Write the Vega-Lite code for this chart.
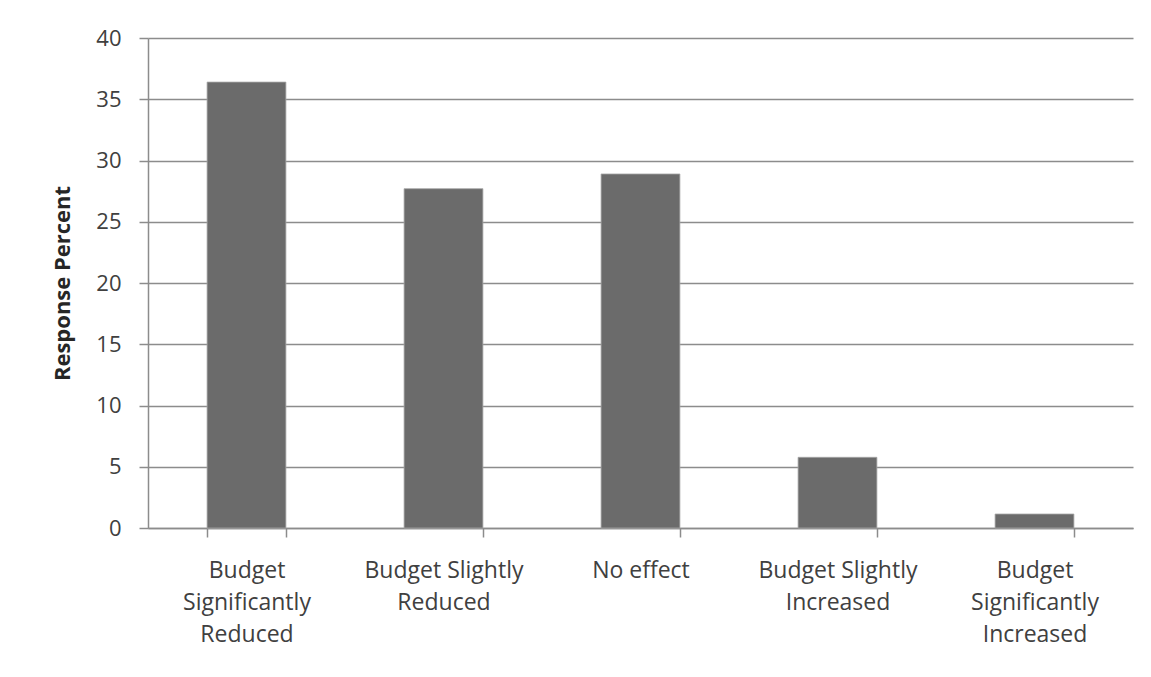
{
  "$schema": "https://vega.github.io/schema/vega-lite/v6.json",
  "autosize": {"type": "none"},
  "width": 985,
  "height": 490,
  "padding": {"left": 148, "top": 38, "right": 18, "bottom": 149},
  "background": "white",
  "config": {
    "view": {"stroke": null},
    "font": "Open Sans"
  },
  "data": {
    "values": [
      {"category": "Budget Significantly Reduced", "percent": 36.4},
      {"category": "Budget Slightly Reduced", "percent": 27.7},
      {"category": "No effect", "percent": 28.9},
      {"category": "Budget Slightly Increased", "percent": 5.77},
      {"category": "Budget Significantly Increased", "percent": 1.14}
    ]
  },
  "mark": {"type": "bar", "color": "#6b6b6b", "stroke": "#a6a6a6", "strokeWidth": 0.8},
  "encoding": {
    "x": {
      "field": "category",
      "type": "nominal",
      "sort": null,
      "scale": {"paddingInner": 0.6, "paddingOuter": 0.3},
      "axis": {
        "title": null,
        "labelAngle": 0,
        "labelFont": "Open Sans",
        "labelFontSize": 23,
        "labelColor": "#404040",
        "labelLineHeight": 32,
        "labelBaseline": "top",
        "labelPadding": 22,
        "labelExpr": "datum.value == 'Budget Significantly Reduced' ? ['Budget','Significantly','Reduced'] : datum.value == 'Budget Slightly Reduced' ? ['Budget Slightly','Reduced'] : datum.value == 'Budget Slightly Increased' ? ['Budget Slightly','Increased'] : datum.value == 'Budget Significantly Increased' ? ['Budget','Significantly','Increased'] : datum.value",
        "tickBand": "extent",
        "tickSize": 9,
        "tickColor": "#8c8c8c",
        "tickWidth": 1.5,
        "domainColor": "#8c8c8c",
        "domainWidth": 1.5,
        "grid": false
      }
    },
    "y": {
      "field": "percent",
      "type": "quantitative",
      "scale": {"domain": [0, 40], "nice": false},
      "axis": {
        "title": "Response Percent",
        "titleFont": "Open Sans",
        "titleFontSize": 22,
        "titleFontWeight": "bold",
        "titleColor": "#262626",
        "titlePadding": 21,
        "values": [0, 5, 10, 15, 20, 25, 30, 35, 40],
        "labelFont": "Open Sans",
        "labelFontSize": 22,
        "labelColor": "#404040",
        "labelPadding": 18,
        "tickSize": 9,
        "tickColor": "#8c8c8c",
        "tickWidth": 1.5,
        "domainColor": "#8c8c8c",
        "domainWidth": 1.5,
        "grid": true,
        "gridColor": "#8c8c8c",
        "gridWidth": 1.5
      }
    }
  }
}
